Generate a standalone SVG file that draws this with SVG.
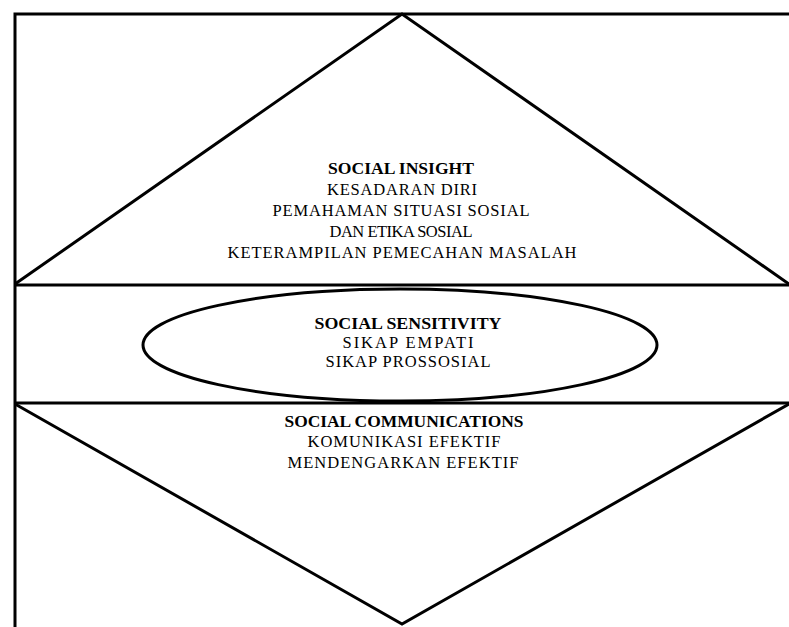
<svg xmlns="http://www.w3.org/2000/svg" width="789" height="627" viewBox="0 0 789 627">
  <style>
    .ln { fill: none; stroke: #000; stroke-width: 3; stroke-linejoin: miter; }
    .t { font-family: "Liberation Serif", "Times New Roman", serif; font-size: 16.5px; fill: #000; text-anchor: middle; }
    .b { font-weight: bold; }
  </style>
  <rect x="0" y="0" width="789" height="627" fill="#fff"/>
  <g id="frame">
    <polyline class="ln" points="15,627 15,14 789,14"/>
    <line class="ln" x1="15" y1="285" x2="789" y2="285"/>
    <line class="ln" x1="15" y1="403" x2="789" y2="403"/>
  </g>
  <g id="connectors"></g>
  <g id="social-insight">
    <polyline class="ln" points="15,284 402,14 789,284"/>
    <text class="t b" x="401" y="174" textLength="146" lengthAdjust="spacingAndGlyphs">SOCIAL INSIGHT</text>
    <text class="t" x="402" y="195" textLength="150" lengthAdjust="spacing">KESADARAN DIRI</text>
    <text class="t" x="401" y="216" textLength="257" lengthAdjust="spacing">PEMAHAMAN SITUASI SOSIAL</text>
    <text class="t" x="401" y="237" textLength="143" lengthAdjust="spacing">DAN ETIKA SOSIAL</text>
    <text class="t" x="402" y="258" textLength="349" lengthAdjust="spacing">KETERAMPILAN PEMECAHAN MASALAH</text>
  </g>
  <g id="social-sensitivity">
    <ellipse class="ln" cx="400" cy="345" rx="257" ry="56" stroke-width="3.8"/>
    <text class="t b" x="408" y="329" textLength="187" lengthAdjust="spacingAndGlyphs">SOCIAL SENSITIVITY</text>
    <text class="t" x="408" y="348" textLength="131" lengthAdjust="spacing">SIKAP EMPATI</text>
    <text class="t" x="408" y="367" textLength="165" lengthAdjust="spacing">SIKAP PROSSOSIAL</text>
  </g>
  <g id="social-communications">
    <polyline class="ln" points="15,404 402,624 789,404"/>
    <text class="t b" x="404" y="427" textLength="239" lengthAdjust="spacingAndGlyphs">SOCIAL COMMUNICATIONS</text>
    <text class="t" x="404" y="447" textLength="193" lengthAdjust="spacing">KOMUNIKASI EFEKTIF</text>
    <text class="t" x="403" y="468" textLength="231" lengthAdjust="spacing">MENDENGARKAN EFEKTIF</text>
  </g>
</svg>
